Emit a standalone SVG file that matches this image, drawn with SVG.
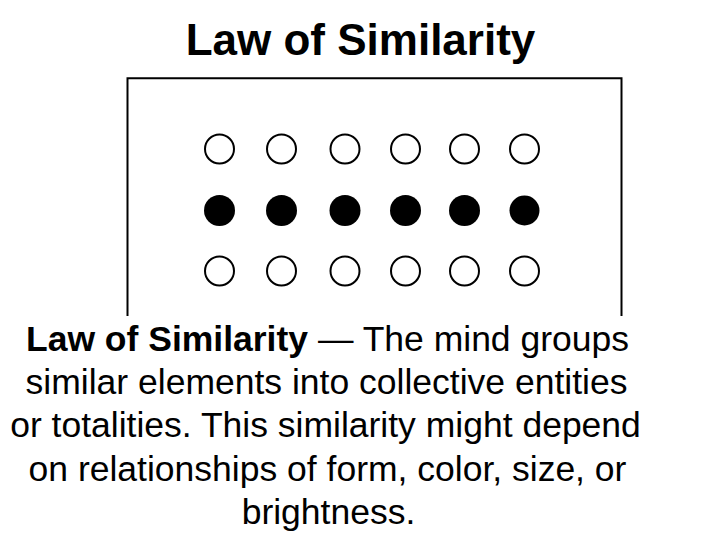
<svg xmlns="http://www.w3.org/2000/svg" width="720" height="540" viewBox="0 0 720 540">
  <style>
    .title { font-family: "Liberation Sans", Arial, sans-serif; font-weight: bold; font-size: 44px; fill: #000; }
    .body { font-family: "Liberation Sans", Arial, sans-serif; font-size: 35.5px; fill: #000; }
    .b { font-weight: bold; }
    .open { fill: #fff; stroke: #000; stroke-width: 2; }
    .full { fill: #000; stroke: none; }
    .frame { fill: none; stroke: #000; stroke-width: 2; }
  </style>
  <rect x="0" y="0" width="720" height="540" fill="#fff"/>
  <g id="title">
    <text class="title" x="360.5" y="55" text-anchor="middle">Law of Similarity</text>
  </g>
  <g id="frame">
    <path class="frame" d="M127.5 316 V78.3 H621.5 V316"/>
  </g>
  <g id="row-top">
    <circle class="open" cx="219.5" cy="149" r="14.5"/>
    <circle class="open" cx="281.5" cy="149" r="14.5"/>
    <circle class="open" cx="345" cy="149" r="14.5"/>
    <circle class="open" cx="405.5" cy="149" r="14.5"/>
    <circle class="open" cx="464.5" cy="149" r="14.5"/>
    <circle class="open" cx="524.5" cy="149" r="14.5"/>
  </g>
  <g id="row-middle">
    <circle class="full" cx="219.5" cy="210.5" r="15.5"/>
    <circle class="full" cx="281.5" cy="210.5" r="15.5"/>
    <circle class="full" cx="345" cy="210.5" r="15.5"/>
    <circle class="full" cx="405.5" cy="210.5" r="15.5"/>
    <circle class="full" cx="464.5" cy="210.5" r="15.5"/>
    <circle class="full" cx="524.5" cy="210.5" r="15"/>
  </g>
  <g id="row-bottom">
    <circle class="open" cx="219.5" cy="271" r="14.5"/>
    <circle class="open" cx="281.5" cy="271" r="14.5"/>
    <circle class="open" cx="345" cy="271" r="14.5"/>
    <circle class="open" cx="405.5" cy="271" r="14.5"/>
    <circle class="open" cx="464.5" cy="271" r="14.5"/>
    <circle class="open" cx="524.5" cy="271" r="14.5"/>
  </g>
  <g id="caption">
    <text class="body" x="327.5" y="351" text-anchor="middle"><tspan class="b">Law of Similarity</tspan> — The mind groups</text>
    <text class="body" x="326.5" y="394" text-anchor="middle">similar elements into collective entities</text>
    <text class="body" x="325.5" y="437" text-anchor="middle">or totalities. This similarity might depend</text>
    <text class="body" x="327.5" y="481" text-anchor="middle">on relationships of form, color, size, or</text>
    <text class="body" x="328.5" y="524" text-anchor="middle">brightness.</text>
  </g>
</svg>
